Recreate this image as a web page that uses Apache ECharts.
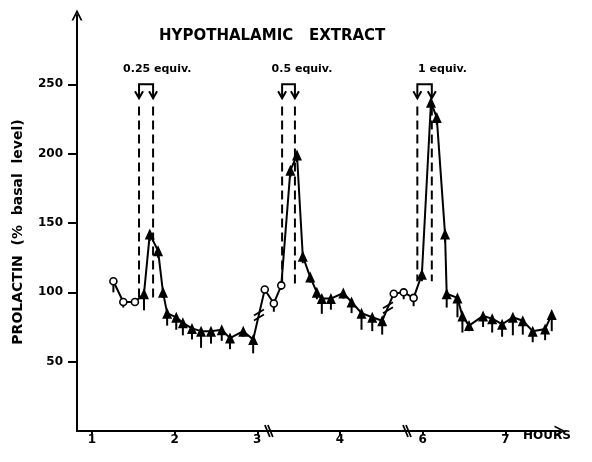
<!DOCTYPE html>
<html>
<head>
<meta charset="utf-8">
<script src="https://cdn.jsdelivr.net/npm/echarts@6/dist/echarts.min.js"></script>
<style>
html,body{margin:0;padding:0;background:#fff}
#main{width:592px;height:462px}
</style>
</head>
<body>
<div id="main"></div>
<script>
// position on the drawn time axis (hours) - the axis skips hour 5, so 5 reads "6"
var t = [1.26, 1.38, 1.52, 1.63, 1.70, 1.80, 1.86, 1.91, 2.02, 2.10, 2.21, 2.32, 2.44, 2.57, 2.67, 2.83, 2.95,
	3.09, 3.20, 3.29, 3.40, 3.48, 3.55, 3.64, 3.72, 3.78, 3.89, 4.04, 4.14, 4.26, 4.39, 4.51,
	4.65, 4.77, 4.89, 4.99, 5.10, 5.17, 5.27, 5.29, 5.42, 5.48, 5.56, 5.73, 5.84, 5.96, 6.09, 6.21, 6.33, 6.48, 6.56];
// prolactin, % of basal level
var prl = [108, 93, 93, 99, 142, 130, 100, 85, 82, 78, 74, 72, 72, 73, 67, 72, 66,
	102, 92, 105, 188, 199, 126, 111, 100, 95.5, 95.5, 99.5, 93, 85, 82, 79.5,
	99, 100, 96, 113, 237, 226, 142, 99, 96, 83, 76, 83, 81, 77, 82, 79.5, 72, 73.5, 84];
// error bar (drawn downward)
var sem = [8, 4, 2, 12, 5, 5, 4, 9, 9, 9, 8, 12, 9, 8, 8, 4, 10,
	3, 6, 3, 5, 5, 5, 4, 5, 11, 8, 4, 8, 12, 10, 10,
	3, 5, 6, 5, 4, 5, 6, 10, 14, 12, 4, 8, 10, 9, 13, 10, 8, 8, 12];
// 'o' = basal sample, 't' = after extract
var kind = ['o','o','o','t','t','t','t','t','t','t','t','t','t','t','t','t','t',
	'o','o','o','t','t','t','t','t','t','t','t','t','t','t','t',
	'o','o','o','t','t','t','t','t','t','t','t','t','t','t','t','t','t','t','t'];
// last index of each run before a break in the curve
var segEnd = [16, 31];

// extract injections
var doseStart = [1.57, 3.30, 4.935];
var doseEnd = [1.74, 3.455, 5.11];
var doseBottom = [95, 105, 108];
var doseLabel = ['0.25 equiv.', '0.5 equiv.', '1 equiv.'];
var doseLabelT = [1.79, 3.54, 5.24];

var axisBreaks = [3.14, 4.81];
var yTicks = [50, 100, 150, 200, 250];
var xTicks = [1, 2, 3, 4, 5, 6];
var xTickLabels = ['1', '2', '3', '4', '6', '7'];

var FONT = 'DejaVu Sans';
var arrowPath = 'path://M0,10 L5,0 L10,10 L8.3,10 L5,3.4 L1.7,10 Z';

var lineData = t.map(function(x, i) {
	if (kind[i] == 'o') {
		return {value: [x, prl[i]], symbol: 'circle', symbolSize: 7,
			itemStyle: {color: '#fff', borderColor: '#000', borderWidth: 1.6}};
	}
	return {value: [x, prl[i]], symbol: 'triangle', symbolSize: [10, 11],
		itemStyle: {color: '#000', borderWidth: 0}};
});

var breakData = [];
segEnd.forEach(function(i) {
	breakData.push([(t[i] + t[i + 1]) / 2, (prl[i] + prl[i + 1]) / 2]);
});

function slash(cx, cy, dx1, dy1, dx2, dy2, off) {
	return {type: 'line', shape: {x1: cx + dx1 + off, y1: cy + dy1, x2: cx + dx2 + off, y2: cy + dy2},
		style: {stroke: '#000', lineWidth: 1.8}};
}

var option = {
	animation: false,
	backgroundColor: '#fff',
	grid: {left: 77, right: 32, top: 15, bottom: 31},
	xAxis: {
		type: 'value', min: 0.82, max: 6.66,
		axisLine: {lineStyle: {color: '#000', width: 2}, symbol: ['none', arrowPath], symbolSize: [11, 11]},
		axisTick: {customValues: xTicks, length: 4, lineStyle: {color: '#000', width: 2}},
		axisLabel: {customValues: xTicks, margin: 3, color: '#000', fontFamily: FONT, fontWeight: 'bold', fontSize: 12,
			formatter: function(v) { return xTickLabels[xTicks.indexOf(v)]; }},
		splitLine: {show: false}
	},
	yAxis: {
		type: 'value', min: 0, max: 300,
		axisLine: {show: true, lineStyle: {color: '#000', width: 2}, symbol: ['none', arrowPath], symbolSize: [11, 11]},
		axisTick: {show: true, customValues: yTicks, length: 9, lineStyle: {color: '#000', width: 2}},
		axisLabel: {customValues: yTicks, margin: 14, color: '#000', fontFamily: FONT, fontWeight: 'bold', fontSize: 12},
		splitLine: {show: false}
	},
	graphic: [
		{type: 'text', left: 159, top: 29, style: {text: 'HYPOTHALAMIC   EXTRACT', font: 'bold 15px ' + FONT, fill: '#000'}},
		{type: 'text', left: 523, top: 430, style: {text: 'HOURS', font: 'bold 12px ' + FONT, fill: '#000'}},
		{type: 'text', x: 18, y: 232, rotation: Math.PI / 2, style: {text: 'PROLACTIN  (%  basal  level)',
			font: 'bold 14px ' + FONT, fill: '#000', align: 'center', verticalAlign: 'middle'}}
	],
	series: [
		{
			name: 'sem', type: 'custom', z: 1,
			renderItem: function(params, api) {
				var p = api.coord([api.value(0), api.value(1)]);
				var q = api.coord([api.value(0), api.value(1) - api.value(2)]);
				return {type: 'line', shape: {x1: p[0], y1: p[1], x2: q[0], y2: q[1]},
					style: {stroke: '#000', lineWidth: 2}};
			},
			data: t.map(function(x, i) { return [x, prl[i], sem[i]]; })
		},
		{
			name: 'prolactin', type: 'line', z: 3,
			lineStyle: {color: '#000', width: 2},
			data: lineData
		},
		{
			name: 'dose', type: 'custom', z: 2,
			renderItem: function(params, api) {
				var x1 = api.coord([api.value(0), 250])[0];
				var x2 = api.coord([api.value(1), 250])[0];
				var yb = api.coord([0, 250])[1];
				var tip = api.coord([0, 240])[1];
				var dashTop = api.coord([0, 234])[1];
				var bot = api.coord([0, api.value(2)])[1];
				var lx = api.coord([api.value(3), 0])[0];
				var ly = api.coord([0, 261])[1];
				var st = {stroke: '#000', lineWidth: 2, fill: null};
				return {type: 'group', children: [
					{type: 'polyline', shape: {points: [[x1, tip], [x1, yb], [x2, yb], [x2, tip]]}, style: st},
					{type: 'polyline', shape: {points: [[x1 - 4, tip - 7], [x1, tip], [x1 + 4, tip - 7]]}, style: st},
					{type: 'polyline', shape: {points: [[x2 - 4, tip - 7], [x2, tip], [x2 + 4, tip - 7]]}, style: st},
					{type: 'line', shape: {x1: x1, y1: dashTop, x2: x1, y2: bot}, style: {stroke: '#000', lineWidth: 2, lineDash: [9, 5]}},
					{type: 'line', shape: {x1: x2, y1: dashTop, x2: x2, y2: bot}, style: {stroke: '#000', lineWidth: 2, lineDash: [9, 5]}},
					{type: 'text', x: lx, y: ly, style: {text: doseLabel[params.dataIndex], font: 'bold 11px ' + FONT,
						fill: '#000', align: 'center', verticalAlign: 'middle'}}
				]};
			},
			data: doseStart.map(function(s, i) { return [s, doseEnd[i], doseBottom[i], doseLabelT[i]]; })
		},
		{
			name: 'curveBreaks', type: 'custom', z: 4,
			renderItem: function(params, api) {
				var p = api.coord([api.value(0), api.value(1)]);
				return {type: 'group', children: [
					slash(p[0], p[1], -5, 1, 5, -5, 0),
					slash(p[0], p[1], -5, 6, 5, 0, 0)
				]};
			},
			data: breakData
		},
		{
			name: 'axisBreaks', type: 'custom', z: 4,
			renderItem: function(params, api) {
				var p = api.coord([api.value(0), 0]);
				return {type: 'group', children: [
					slash(p[0], p[1], -3, -6, 2, 6, -1),
					slash(p[0], p[1], -3, -6, 2, 6, 2)
				]};
			},
			data: axisBreaks.map(function(x) { return [x, 0]; })
		}
	]
};

var chart = echarts.init(document.getElementById('main'));
chart.setOption(option);
</script>
</body>
</html>
